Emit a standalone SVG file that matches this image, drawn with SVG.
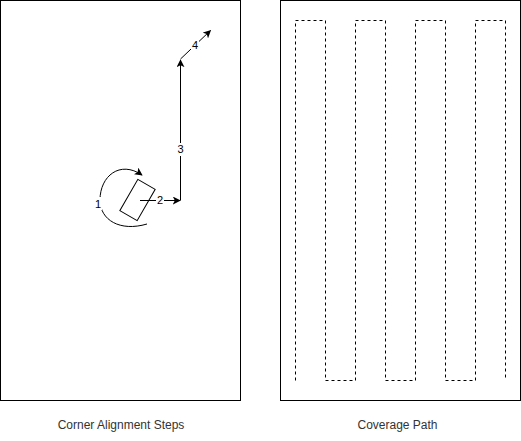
<svg xmlns="http://www.w3.org/2000/svg" width="521" height="441" viewBox="0 0 521 441">
<style>
.frame{fill:#fff;stroke:#000;stroke-width:1}
.edge{fill:none;stroke:#000;stroke-width:1}
.dash{fill:none;stroke:#000;stroke-width:1;stroke-dasharray:3 3}
.lbl{font-family:"Liberation Sans",Arial,sans-serif;font-size:11px;fill:#000;text-anchor:middle}
.cap{font-family:"Liberation Sans",Arial,sans-serif;font-size:12px;fill:#333;text-anchor:middle}
.bg{fill:#fff}
</style>
<defs>
<marker id="arr" viewBox="0 0 10 10" refX="9" refY="5" markerWidth="8" markerHeight="8" markerUnits="userSpaceOnUse" orient="auto">
<path d="M0 0 L10 5 L0 10 L2.5 5 Z" fill="#000"/>
</marker>
</defs>
<rect width="521" height="441" fill="#fff"/>
<g id="frame-left"><rect class="frame" x="0.5" y="0.5" width="240" height="400"/></g>
<g id="frame-right"><rect class="frame" x="280.5" y="0.5" width="240" height="400"/></g>
<g id="robot"><rect class="frame" x="127.5" y="182" width="20" height="36" transform="rotate(30 137.5 200)"/></g>
<g id="connectors">
<path class="edge" d="M147 224 C120 232 100 220 100 200 C100 176 120 160 142 175" marker-end="url(#arr)"/>
<line class="edge" x1="140" y1="200.5" x2="180" y2="200.5" marker-end="url(#arr)"/>
<line class="edge" x1="180.5" y1="200.5" x2="180.5" y2="60" marker-end="url(#arr)"/>
<line class="edge" x1="180.5" y1="59" x2="210.5" y2="30.5" marker-end="url(#arr)"/>
<path class="dash" d="M295.5 380.5 V20.5 H325.5 V380.5 H355.5 V20.5 H385.5 V380.5 H415.5 V20.5 H445.5 V380.5 H475.5 V20.5 H505.5 V380.5"/>
</g>
<g id="labels">
<rect class="bg" x="94" y="197" width="8" height="13"/><text class="lbl" x="98" y="208">1</text>
<rect class="bg" x="156" y="194" width="8" height="13"/><text class="lbl" x="160" y="204">2</text>
<rect class="bg" x="176" y="143" width="9" height="13"/><text class="lbl" x="180.5" y="153">3</text>
<rect class="bg" x="191" y="39" width="8" height="12"/><text class="lbl" x="195" y="49">4</text>
</g>
<g id="captions">
<text class="cap" x="121" y="429">Corner Alignment Steps</text>
<text class="cap" x="397.5" y="429">Coverage Path</text>
</g>
</svg>
